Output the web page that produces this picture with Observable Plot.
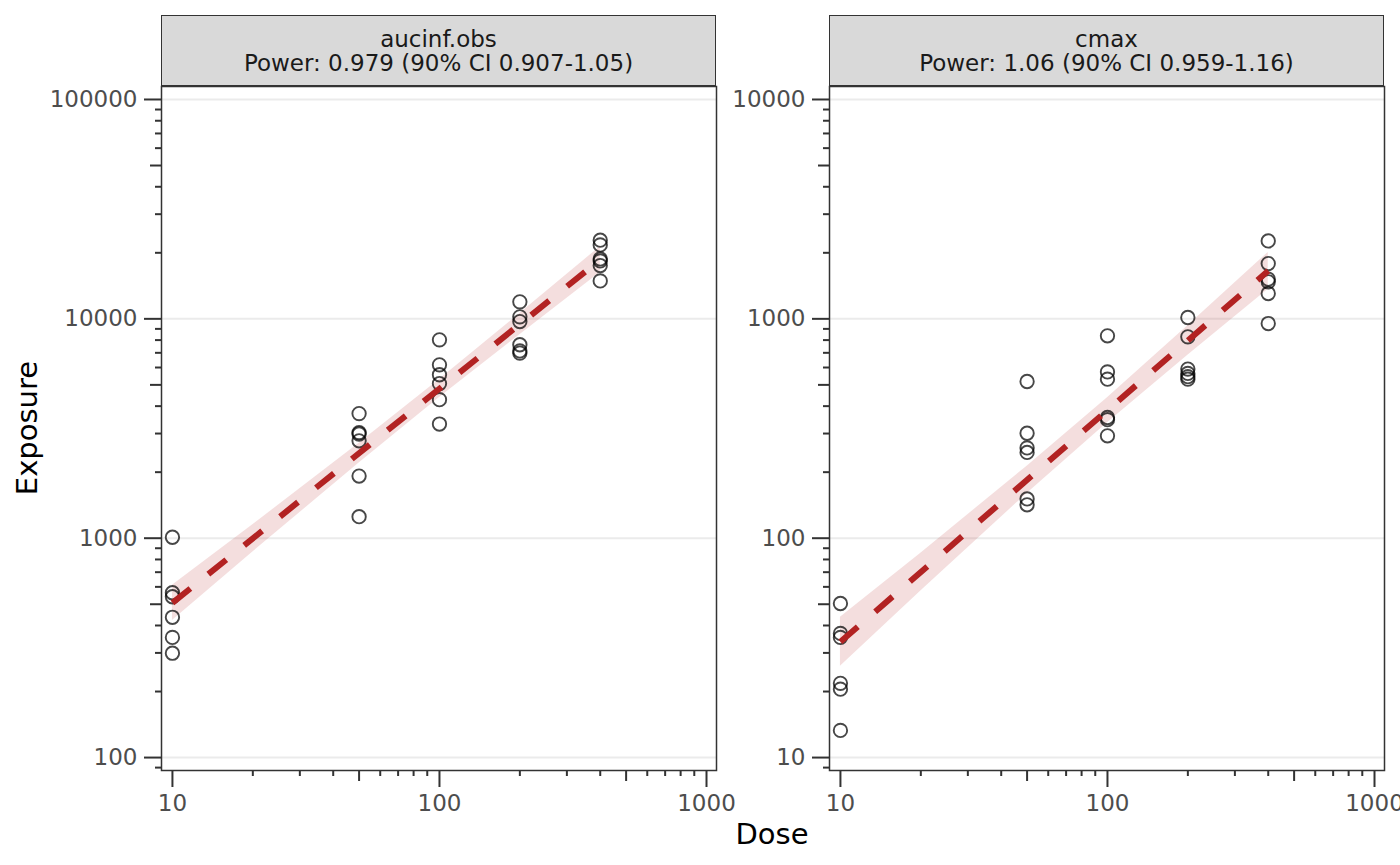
<!DOCTYPE html>
<html>
<head>
<meta charset="utf-8">
<script src="https://cdn.jsdelivr.net/npm/d3@7"></script>
<script src="https://cdn.jsdelivr.net/npm/@observablehq/plot@0.6"></script>
<style>
  html, body { margin: 0; padding: 0; background: white; }
  #wrap { position: relative; width: 1400px; height: 865px; background: white; overflow: hidden;
          font-family: "DejaVu Sans", sans-serif; }
  .strip { position: absolute; top: 15px; height: 71px; width: 555px; box-sizing: border-box;
           background: #D9D9D9; border: 1.4px solid #333333; color: #1A1A1A; font-size: 23px;
           display: flex; flex-direction: column; justify-content: center; align-items: center; line-height: 24px; }
  .title { position: absolute; color: #000; font-size: 29px; white-space: nowrap; }
</style>
</head>
<body>
<div id="wrap"></div>
<script>
// ---------- data ----------
const pointDose = [
  10, 10, 10, 10, 10, 10,
  50, 50, 50, 50, 50, 50,
  100, 100, 100, 100, 100, 100,
  200, 200, 200, 200, 200, 200,
  400, 400, 400, 400, 400, 400
];
const aucinfObs = [
  1010, 564, 541, 436, 353, 299,
  3700, 3030, 2985, 2780, 1920, 1253,
  8020, 6170, 5560, 5070, 4280, 3315,
  11950, 10210, 9720, 7620, 7140, 6980,
  22830, 21730, 18750, 18370, 17500, 14890
];
const cmax = [
  50.4, 36.8, 35.3, 21.8, 20.5, 13.3,
  518, 301, 258, 246, 151, 142,
  837, 573, 531, 355, 347, 293,
  1014, 828, 590, 564, 545, 531,
  2265, 1787, 1517, 1475, 1305, 952
];

// fitted power-model line (endpoints) and 90% CI ribbon
const lineDose = [10, 400];
const aucinfLine = [507, 18600];
const cmaxLine = [33.7, 1656];

const bandDose = [10, 20, 50, 100, 200, 400];
const aucinfLo = [422, 865, 2203, 4375, 8472, 16250];
const aucinfHi = [610, 1151, 2710, 5284, 10570, 21330];
const cmaxLo = [26.1, 57.5, 160, 336, 682, 1365];
const cmaxHi = [43.6, 85.4, 213, 437, 929, 2009];

const stripLine1 = ["aucinf.obs", "cmax"];
const stripLine2 = ["Power: 0.979 (90% CI 0.907-1.05)", "Power: 1.06 (90% CI 0.959-1.16)"];

// tick values
const xMajor = [10, 100, 1000];
const xMid = [50, 500];
const xMinor = [20, 30, 40, 60, 70, 80, 90, 200, 300, 400, 600, 700, 800, 900];
const xDomain = [9.1, 1090];

const aucYDomain = [87.3, 114600];
const aucYMajor = [100, 1000, 10000, 100000];
const aucYMid = [500, 5000, 50000];
const aucYMinor = [90, 200, 300, 400, 600, 700, 800, 900, 2000, 3000, 4000, 6000, 7000, 8000, 9000,
                   20000, 30000, 40000, 60000, 70000, 80000, 90000];

const cmaxYDomain = [8.73, 11460];
const cmaxYMajor = [10, 100, 1000, 10000];
const cmaxYMid = [50, 500, 5000];
const cmaxYMinor = [9, 20, 30, 40, 60, 70, 80, 90, 200, 300, 400, 600, 700, 800, 900,
                    2000, 3000, 4000, 6000, 7000, 8000, 9000];

// ---------- build ----------
const wrap = document.getElementById("wrap");

function panel({yvals, lineVals, lo, hi, yDomain, yMajor, yMid, yMinor, svgLeft, width, marginRight}) {
  const pts = pointDose.map((d, i) => ({dose: d, value: yvals[i]}));
  const fit = lineDose.map((d, i) => ({dose: d, value: lineVals[i]}));
  const band = bandDose.map((d, i) => ({dose: d, lo: lo[i], hi: hi[i]}));
  const axisCommon = {stroke: "#333333", strokeWidth: 2, fill: "#4D4D4D", fontSize: 23, label: null};
  const fmt = d => String(d);
  const blank = () => "";
  const svg = Plot.plot({
    width, height: 865,
    marginLeft: 161, marginRight, marginTop: 86, marginBottom: 95,
    style: {background: "transparent", fontFamily: "DejaVu Sans, sans-serif", overflow: "visible"},
    x: {type: "log", domain: xDomain, label: null, axis: null},
    y: {type: "log", domain: yDomain, label: null, axis: null},
    marks: [
      Plot.gridY(yMajor, {stroke: "#EBEBEB", strokeOpacity: 1, strokeWidth: 2}),
      Plot.areaY(band, {x: "dose", y1: "lo", y2: "hi", fill: "#B22222", fillOpacity: 0.15}),
      Plot.dot(pts, {x: "dose", y: "value", r: 6.7, stroke: "#000", strokeOpacity: 0.72, strokeWidth: 1.9, fill: "none"}),
      Plot.line(fit, {x: "dose", y: "value", stroke: "#B22222", strokeWidth: 6, strokeDasharray: "23,23", strokeLinecap: "butt"}),
      Plot.frame({stroke: "#333333", strokeWidth: 1.5}),
      Plot.axisX(xMajor, {...axisCommon, tickSize: 17, tickPadding: 7, tickFormat: fmt}),
      Plot.axisX(xMid, {...axisCommon, tickSize: 11, tickFormat: blank}),
      Plot.axisX(xMinor, {...axisCommon, tickSize: 6, tickFormat: blank}),
      Plot.axisY(yMajor, {...axisCommon, tickSize: 17, tickPadding: 7, tickFormat: fmt}),
      Plot.axisY(yMid, {...axisCommon, tickSize: 11, tickFormat: blank}),
      Plot.axisY(yMinor, {...axisCommon, tickSize: 6, tickFormat: blank})
    ]
  });
  svg.style.position = "absolute";
  svg.style.left = svgLeft + "px";
  svg.style.top = "0px";
  svg.style.maxWidth = "none";
  wrap.appendChild(svg);
}

panel({yvals: aucinfObs, lineVals: aucinfLine, lo: aucinfLo, hi: aucinfHi,
       yDomain: aucYDomain, yMajor: aucYMajor, yMid: aucYMid, yMinor: aucYMinor,
       svgLeft: 0, width: 726, marginRight: 10});
panel({yvals: cmax, lineVals: cmaxLine, lo: cmaxLo, hi: cmaxHi,
       yDomain: cmaxYDomain, yMajor: cmaxYMajor, yMid: cmaxYMid, yMinor: cmaxYMinor,
       svgLeft: 668, width: 732, marginRight: 16});

// strips
[161, 829].forEach((left, i) => {
  const s = document.createElement("div");
  s.className = "strip";
  s.style.left = left + "px";
  const a = document.createElement("div"); a.textContent = stripLine1[i];
  const b = document.createElement("div"); b.textContent = stripLine2[i];
  s.appendChild(a); s.appendChild(b);
  wrap.appendChild(s);
});

// axis titles
const yt = document.createElement("div");
yt.className = "title";
yt.textContent = "Exposure";
yt.style.left = "27px"; yt.style.top = "428px";
yt.style.transform = "translate(-50%, -50%) rotate(-90deg)";
wrap.appendChild(yt);

const xt = document.createElement("div");
xt.className = "title";
xt.textContent = "Dose";
xt.style.left = "772px"; xt.style.top = "834px";
xt.style.transform = "translate(-50%, -50%)";
wrap.appendChild(xt);
</script>
</body>
</html>
